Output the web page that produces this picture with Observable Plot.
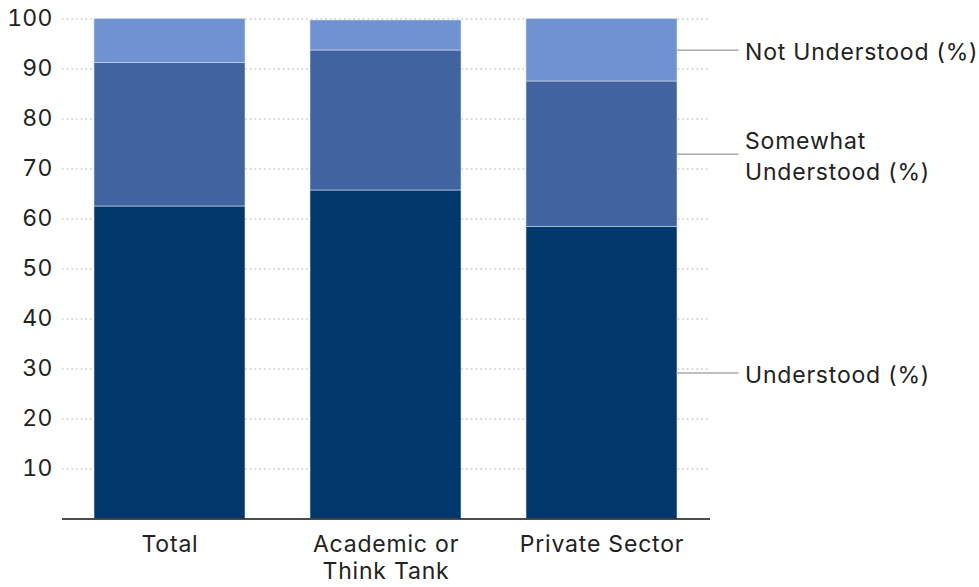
<!DOCTYPE html>
<html>
<head>
<meta charset="utf-8">
<script src="https://cdn.jsdelivr.net/npm/d3@7"></script>
<script src="https://cdn.jsdelivr.net/npm/@observablehq/plot@0.6"></script>
<style>
  html, body { margin: 0; padding: 0; background: #fff; }
  #chart { width: 979px; height: 587px; }
  g[aria-label="x-axis tick label"] text, g[aria-label="text"] text { letter-spacing: 0.8px; }
  g[aria-label="y-axis tick label"] text { letter-spacing: 0.2px; }
</style>
</head>
<body>
<div id="chart"></div>
<script>
const categories = ["Total", "Academic or Think Tank", "Private Sector"];
const categoryLabels = ["Total", "Academic or\nThink Tank", "Private Sector"];
const seriesNames = ["Understood (%)", "Somewhat Understood (%)", "Not Understood (%)"];
const seriesLabels = ["Understood (%)", "Somewhat\nUnderstood (%)", "Not Understood (%)"];
const understood = [62.5, 65.7, 58.4];
const somewhat = [28.7, 28.0, 29.1];
const notUnderstood = [8.8, 6.0, 12.5];
const yTicks = [10, 20, 30, 40, 50, 60, 70, 80, 90, 100];
const colors = ["#01386b", "#4163a0", "#7092d1"];

const seriesValues = [understood, somewhat, notUnderstood];
const data = [];
categories.forEach((c, i) => {
  seriesNames.forEach((s, j) => {
    data.push({category: c, series: s, label: seriesLabels[j], value: seriesValues[j][i]});
  });
});
const lastCat = categories[categories.length - 1];
const lastData = data.filter(d => d.category === lastCat);
const labelMap = new Map(categories.map((c, i) => [c, categoryLabels[i]]));

const chart = Plot.plot({
  width: 979,
  height: 587,
  marginLeft: 62,
  marginRight: 269,
  marginTop: 18.5,
  marginBottom: 68.5,
  style: {fontFamily: "Inter, 'Noto Sans', sans-serif", fontSize: "23px", color: "#222", background: "#fff"},
  x: {domain: categories, paddingInner: 0.3, paddingOuter: 0.15, label: null},
  y: {domain: [0, 100], label: null},
  color: {domain: seriesNames, range: colors},
  marks: [
    Plot.gridY(yTicks, {stroke: "#aaa", strokeOpacity: 1, strokeWidth: 1, strokeDasharray: "1.5,3.2"}),
    Plot.barY(data, {x: "category", y: "value", fill: "series", stroke: "#d6deea", strokeWidth: 0.6}),
    Plot.ruleY([0], {stroke: "#111", strokeWidth: 1.5}),
    Plot.axisY(yTicks, {tickSize: 0, tickPadding: 10, fontSize: 23, label: null}),
    Plot.axisX({tickSize: 0, tickPadding: 14, fontSize: 23, lineHeight: 1.18, tickFormat: d => labelMap.get(d), label: null}),
    Plot.tickY(lastData, Plot.stackY({x: "category", y: "value", stroke: "#aaa", strokeWidth: 1.5, dx: 150.5, insetRight: 89})),
    Plot.text(lastData, Plot.stackY({x: "category", y: "value", text: "label", textAnchor: "start", dx: 143, fontSize: 23, lineHeight: 1.38, fill: "#222"}))
  ]
});
document.getElementById("chart").appendChild(chart);
</script>
</body>
</html>
